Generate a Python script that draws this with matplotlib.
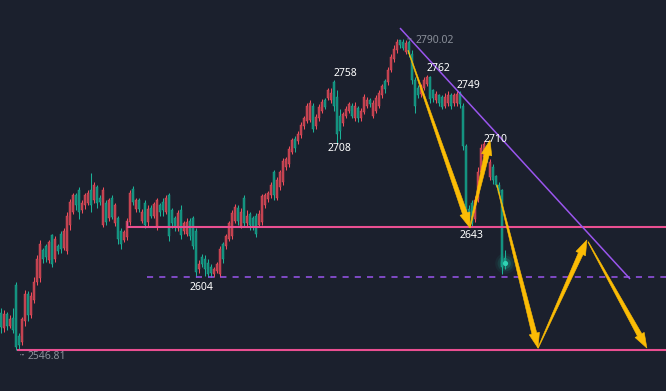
import numpy as np
import matplotlib
matplotlib.use("Agg")
import matplotlib.pyplot as plt
from matplotlib.patches import Polygon

# ---------------- data ----------------
opens = [2576, 2564, 2575, 2566, 2572, 2598, 2558, 2553, 2570, 2591, 2574, 2586, 2600, 2603, 2625, 2628, 2617, 2637, 2618, 2628,
         2638, 2627, 2624, 2645, 2655, 2668, 2672, 2656, 2660, 2662, 2672, 2664, 2674, 2666, 2645, 2662, 2650, 2666, 2646, 2650,
         2640, 2633, 2635, 2647, 2673, 2657, 2664, 2648, 2662, 2647, 2658, 2652, 2643, 2660, 2663, 2655, 2668, 2656, 2650, 2642,
         2656, 2640, 2638, 2648, 2650, 2640, 2610, 2620, 2618, 2615, 2612, 2606, 2609, 2606, 2630, 2628, 2634, 2636, 2648, 2658,
         2644, 2666, 2646, 2653, 2650, 2652, 2645, 2647, 2660, 2665, 2668, 2686, 2666, 2674, 2678, 2690, 2692, 2702, 2712, 2710,
         2715, 2722, 2726, 2727, 2738, 2722, 2728, 2734, 2742, 2744, 2742, 2756, 2745, 2730, 2724, 2730, 2734, 2738, 2728, 2736,
         2728, 2733, 2738, 2742, 2730, 2734, 2738, 2746, 2757, 2756, 2766, 2774, 2781, 2789, 2788, 2780, 2788, 2778, 2758, 2752,
         2747, 2752, 2755, 2760, 2750, 2742, 2746, 2745, 2738, 2740, 2746, 2740, 2740, 2748, 2738, 2706, 2657, 2662, 2649, 2665,
         2686, 2698, 2706, 2682, 2690, 2683, 2676, 2672, 2619]
highs = [2580, 2578, 2577, 2574, 2580, 2600, 2560, 2573, 2594, 2593, 2592, 2604, 2621, 2633, 2627, 2630, 2633, 2638, 2636, 2630,
         2640, 2642, 2655, 2665, 2670, 2670, 2674, 2664, 2670, 2672, 2685, 2678, 2676, 2668, 2674, 2664, 2666, 2668, 2662, 2652,
         2642, 2641, 2650, 2672, 2675, 2666, 2666, 2657, 2664, 2660, 2660, 2663, 2666, 2662, 2666, 2668, 2670, 2658, 2652, 2656,
         2660, 2648, 2650, 2650, 2652, 2642, 2617, 2622, 2621, 2618, 2614, 2612, 2616, 2628, 2631, 2638, 2648, 2656, 2661, 2660,
         2658, 2668, 2656, 2655, 2652, 2654, 2656, 2669, 2670, 2671, 2678, 2688, 2682, 2688, 2697, 2698, 2706, 2713, 2714, 2718,
         2725, 2730, 2740, 2742, 2740, 2731, 2739, 2743, 2744, 2752, 2752, 2758, 2750, 2735, 2733, 2738, 2741, 2740, 2741, 2738,
         2736, 2747, 2745, 2744, 2742, 2746, 2750, 2755, 2759, 2768, 2778, 2785, 2790, 2789.5, 2790.02, 2789, 2789, 2781, 2760, 2754,
         2755, 2760, 2762, 2761, 2751, 2749, 2747, 2746, 2748, 2749, 2748, 2748, 2749, 2749, 2740, 2708, 2660, 2664, 2667, 2690,
         2708, 2710, 2708, 2696, 2692, 2684, 2678, 2673, 2625]
lows = [2560, 2561, 2563, 2564, 2560, 2546.81, 2548, 2551, 2566, 2570, 2572, 2584, 2598, 2600, 2615, 2616, 2615, 2612, 2616, 2622,
        2623, 2625, 2622, 2641, 2653, 2656, 2649, 2654, 2657, 2660, 2655, 2662, 2658, 2660, 2643, 2645, 2648, 2649, 2644, 2630,
        2626, 2631, 2633, 2645, 2660, 2655, 2655, 2646, 2642, 2643, 2650, 2650, 2641, 2652, 2652, 2653, 2632, 2642, 2640, 2640,
        2634, 2638, 2636, 2633, 2626, 2604, 2607, 2612, 2605, 2604, 2604, 2604, 2607, 2604, 2615, 2626, 2632, 2634, 2646, 2645,
        2642, 2643, 2644, 2641, 2641, 2635, 2643, 2645, 2658, 2663, 2666, 2664, 2664, 2672, 2676, 2688, 2690, 2700, 2702, 2708,
        2713, 2720, 2724, 2725, 2717, 2720, 2726, 2732, 2735, 2742, 2740, 2734, 2709, 2712, 2722, 2728, 2732, 2728, 2726, 2725,
        2726, 2731, 2736, 2737, 2728, 2732, 2736, 2744, 2748, 2754, 2764, 2772, 2779, 2783, 2781, 2778, 2776, 2755, 2732, 2744,
        2745, 2750, 2753, 2740, 2741, 2740, 2738, 2735, 2736, 2738, 2735, 2738, 2738, 2736, 2703, 2648, 2648, 2643, 2647, 2663,
        2684, 2696, 2694, 2680, 2677, 2674, 2668, 2606, 2610]
closes = [2565, 2575, 2566, 2571, 2563, 2549, 2551, 2571, 2591, 2574, 2589, 2600, 2618, 2630, 2618, 2620, 2631, 2614, 2634, 2624,
          2626, 2640, 2652, 2663, 2668, 2660, 2655, 2662, 2668, 2670, 2660, 2676, 2662, 2663, 2672, 2647, 2664, 2651, 2660, 2634,
          2630, 2639, 2648, 2670, 2663, 2664, 2657, 2655, 2645, 2657, 2652, 2661, 2664, 2655, 2656, 2666, 2636, 2646, 2643, 2654,
          2637, 2646, 2647, 2636, 2628, 2608, 2614, 2614, 2610, 2606, 2607, 2610, 2614, 2626, 2618, 2636, 2646, 2654, 2659, 2648,
          2655, 2646, 2652, 2645, 2643, 2638, 2653, 2667, 2668, 2670, 2676, 2668, 2680, 2686, 2695, 2696, 2704, 2711, 2705, 2716,
          2723, 2728, 2738, 2740, 2720, 2729, 2737, 2741, 2737, 2750, 2748, 2738, 2716, 2718, 2731, 2735, 2739, 2730, 2738, 2728,
          2734, 2745, 2742, 2739, 2740, 2744, 2748, 2753, 2751, 2766, 2776, 2782, 2788, 2785, 2783, 2787, 2778, 2758, 2738, 2746,
          2753, 2758, 2760, 2743, 2744, 2747, 2740, 2737, 2745, 2746, 2738, 2746, 2747, 2739, 2706, 2656, 2651, 2646, 2664, 2686,
          2705, 2708, 2697, 2694, 2680, 2676, 2670, 2612, 2615]

# key levels
level_high = 2790.02
level_low = 2546.81
support_mid = 2643
support_low = 2604
support_mid_start = 42      # candle index where the line begins
support_low_start = 48.7
bottom_start = 5.3

# descending trend line (candle index, price)
trend_x = [133.0, 209.7]
trend_y = [2798.5, 2602.5]

# projected path (candle index, price) – yellow arrows
proj_paths = [
    [(135.7, 2781.0), (156.3, 2642.5)],
    [(156.3, 2642.5), (163.0, 2711.0)],
    [(165.3, 2676.0), (179.0, 2548.5)],
    [(179.0, 2548.5), (195.3, 2633.0)],
    [(195.7, 2631.5), (215.3, 2548.5)],
]

# annotations: text, candle index, which extreme, dx px, dy px (up positive), colour
labels = [
    ("2758", 111, "h", 11, 6.5, "white"),
    ("2708", 112, "l", 3, -5.5, "white"),
    ("2762", 142, "h", 11, 6, "white"),
    ("2749", 152, "h", 11, 5.5, "white"),
    ("2710", 161, "h", 12, 2, "white"),
    ("2643", 157, "l", 0, -8, "white"),
    ("2604", 69, "l", -6, -10, "white"),
]

# ---------------- style ----------------
BG = "#1b202d"
RED = "#ef4e5c"
RED_BODY = "#b9414f"
GREEN = "#1bb197"
GREEN_BODY = "#138c7a"
PINK = "#ea4f91"
PURPLE = "#9a55ee"
YELLOW = "#fbbc05"
GREY = "#8b909a"

W, H, DPI = 666, 391, 100
fig = plt.figure(figsize=(W / DPI, H / DPI), dpi=DPI, facecolor=BG)
ax = fig.add_axes([0, 0, 1, 1])
ax.set_facecolor(BG)
ax.axis("off")

# pixel mapping: candle i at x = 1 + 3 i ; price scale 1.28 px / point
ax.set_xlim(-1 / 3, (W - 1) / 3)
ax.set_ylim(2547 - 41 / 1.28, 2547 + 350 / 1.28)

n = len(closes)
idx = np.arange(n)
o = np.array(opens, float); c = np.array(closes, float)
hi = np.array(highs, float); lo = np.array(lows, float)
up = c >= o

# wicks
ax.vlines(idx[up], lo[up], hi[up], color=RED, lw=0.75, zorder=2)
ax.vlines(idx[~up], lo[~up], hi[~up], color=GREEN, lw=0.75, zorder=2)
# bodies
bot = np.minimum(o, c); ht = np.maximum(np.abs(c - o), 0.6)
ax.bar(idx[up], ht[up], bottom=bot[up], width=0.72, color=RED_BODY, edgecolor=RED, lw=0.3, zorder=3)
ax.bar(idx[~up], ht[~up], bottom=bot[~up], width=0.72, color=GREEN_BODY, edgecolor=GREEN, lw=0.3, zorder=3)

xmax = (W - 1) / 3
# horizontal levels
ax.hlines(support_mid, support_mid_start, xmax, color=PINK, lw=1.5, zorder=4)
ax.vlines(support_mid_start, support_mid, support_mid + 4.5, color=PINK, lw=1.0, zorder=4)
ax.hlines(level_low, bottom_start, xmax, color=PINK, lw=1.5, zorder=4)
ax.hlines(support_low, support_low_start, xmax, color=PURPLE, lw=1.1, linestyles=(0, (4, 4)), zorder=4)
# trend line
ax.plot(trend_x, trend_y, color=PURPLE, lw=1.1, zorder=4, solid_capstyle="butt")


def tapered_arrow(p0, p1, w0=0.6, w1=5.0, head_w=10.5, head_len=15.0):
    T = ax.transData
    a = np.array(T.transform(p0)); b = np.array(T.transform(p1))
    d = b - a
    L = np.hypot(*d)
    u = d / L
    nrm = np.array([-u[1], u[0]])
    base = b - u * head_len
    pts = [a + nrm * w0 / 2, base + nrm * w1 / 2, base + nrm * head_w / 2, b,
           base - nrm * head_w / 2, base - nrm * w1 / 2, a - nrm * w0 / 2]
    poly = Polygon(T.inverted().transform(pts), closed=True, fc=YELLOW, ec=YELLOW, lw=0.4, zorder=6)
    ax.add_patch(poly)


for path in proj_paths:
    tapered_arrow(path[0], path[1])

# glowing last price dot
lx, ly = idx[-1], closes[-1]
for s, a in [(220, 0.08), (130, 0.14), (60, 0.25)]:
    ax.scatter([lx], [ly], s=s, color=GREEN, alpha=a, lw=0, zorder=5)
ax.scatter([lx], [ly], s=14, color="#2fd3b4", lw=0, zorder=6)

FONT = "Noto Sans"
PT = 72 / DPI  # px -> pt
for txt, i, which, dx, dy, col in labels:
    yv = highs[i] if which == "h" else lows[i]
    ax.annotate(txt, xy=(i, yv), xytext=(dx * PT, dy * PT), textcoords="offset points",
                ha="center", va="center", color=col, fontsize=7.5, family=FONT, zorder=7)

# extreme labels (grey) with dotted leaders
ihi = int(np.argmax(hi)); ilo = int(np.argmin(lo))
ax.annotate(f"{level_high:.2f}", xy=(ihi, level_high), xytext=(13 * PT, -1.5 * PT), textcoords="offset points",
            ha="left", va="center", color=GREY, fontsize=7.5, family=FONT, zorder=7)
ax.annotate("", xy=(ihi + 0.7, level_high), xytext=(ihi + 3.6, level_high),
            arrowprops=dict(arrowstyle="-", color=GREY, lw=0.8, linestyle=(0, (1, 1.5))), zorder=7)
ax.annotate(f"{level_low:.2f}", xy=(ilo, level_low), xytext=(12 * PT, -6 * PT), textcoords="offset points",
            ha="left", va="center", color=GREY, fontsize=7.5, family=FONT, zorder=7)
ax.annotate("", xy=(ilo + 0.6, level_low - 3.5), xytext=(ilo + 3.4, level_low - 3.5),
            arrowprops=dict(arrowstyle="-", color=GREY, lw=0.8, linestyle=(0, (1, 1.5))), zorder=7)

fig.savefig("out.png", dpi=DPI, facecolor=BG)
